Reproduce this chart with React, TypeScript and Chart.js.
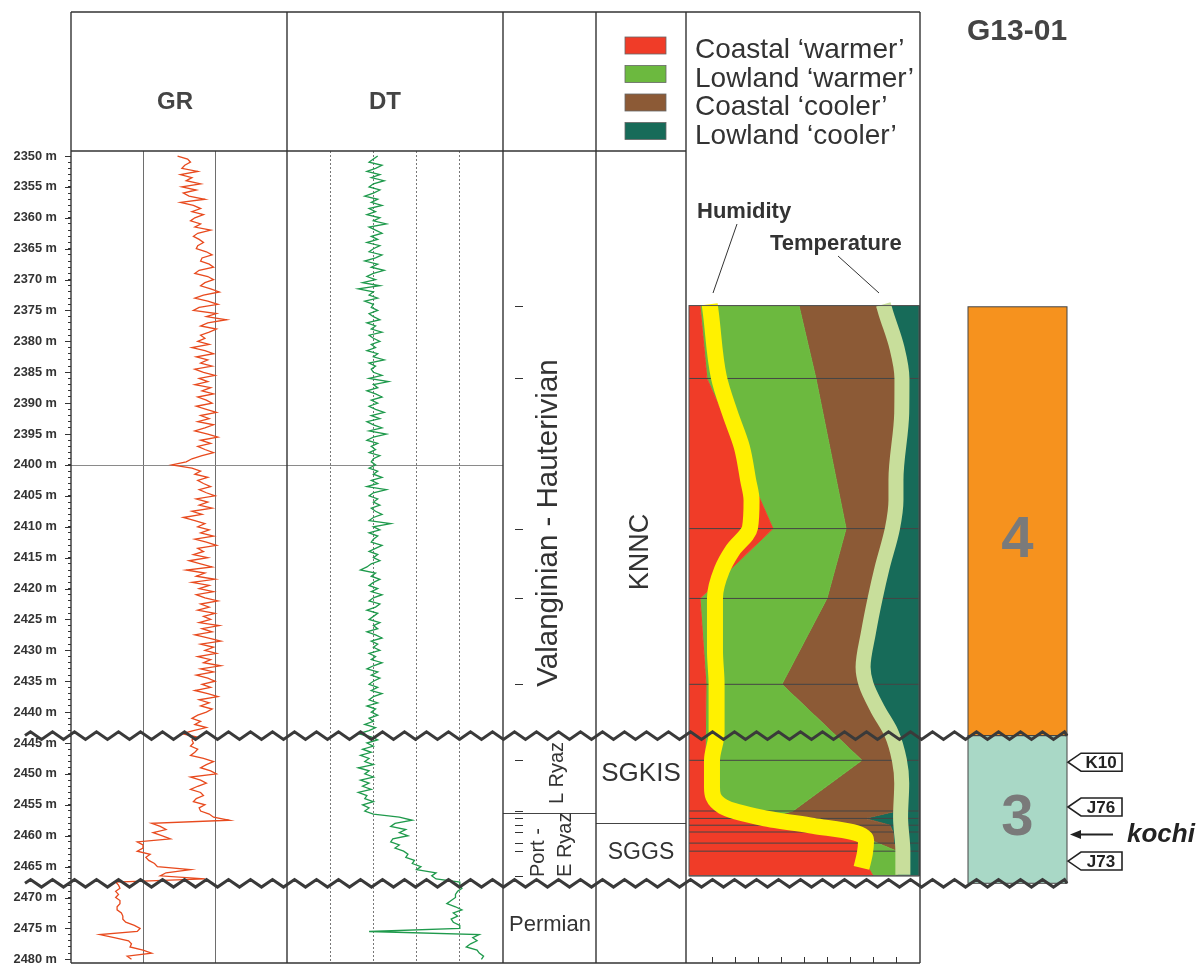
import { useEffect, useRef } from 'react';
import { Chart, registerables } from 'chart.js';

Chart.register(...registerables);

const FONT = '"Liberation Sans", Arial, Helvetica, sans-serif';

// ---------- depth axis ----------
const DEPTH_MIN = 2349.19;
const DEPTH_MAX = 2480.6;
const DEPTH_TICKS = Array.from({ length: 131 }, (_, i) => 2350 + i);
const DEPTH_LABEL_EVERY = 5;
const REFERENCE_DEPTH = 2400;
const UNCONFORMITIES = [2443.8, 2467.7];

// ---------- wireline logs, one reading every 0.5 m from 2350 m ----------
const LOG_TOP = 2350;
const LOG_STEP = 0.5;
const GR_VALUES = [
  74, 81, 83, 79, 77, 88, 76, 84, 80, 90,
  77, 87, 78, 82, 93, 76, 85, 90, 84, 92,
  86, 83, 90, 86, 97, 88, 85, 89, 92, 88,
  87, 94, 98, 91, 90, 96, 99, 89, 86, 95,
  99, 93, 90, 97, 103, 92, 86, 95, 102, 89,
  85, 101, 94, 108, 95, 90, 101, 96, 90, 93,
  88, 96, 84, 93, 99, 87, 95, 90, 98, 86,
  92, 100, 89, 95, 86, 97, 91, 99, 88, 94,
  98, 87, 94, 101, 90, 96, 88, 99, 93, 86,
  95, 102, 90, 97, 88, 93, 99, 91, 84, 80,
  70, 84, 90, 86, 95, 88, 92, 97, 89, 94,
  100, 87, 95, 89, 98, 84, 91, 78, 86, 93,
  88, 96, 90, 99, 86, 94, 101, 88, 92, 85,
  95, 82, 90, 98, 80, 93, 87, 100, 84, 96,
  89, 99, 87, 93, 102, 90, 96, 88, 100, 92,
  97, 89, 103, 91, 98, 86, 95, 104, 90, 99,
  93, 101, 88, 97, 92, 104, 90, 99, 87, 95,
  100, 91, 97, 86, 95, 102, 89, 96, 90, 98,
  94, 88, 84, 90, 86, 94, 85, 77, 87, 84,
  85, 83, 88, 86, 83, 92, 99, 94, 90, 97,
  101, 83, 90, 94, 88, 83, 90, 92, 87, 85,
  93, 89, 90, 96, 99, 110, 56, 62, 66, 57,
  63, 69, 46, 50, 50, 46, 55, 52, 54, 58,
  60, 83, 66, 62, 93, 31, 33, 34, 31, 33,
  31, 34, 34, 32, 32, 35, 36, 36, 38, 44,
  48, 46, 20, 30, 40, 42, 41, 50, 56, 39,
  42,
];
const DT_VALUES = [
  42, 40, 38, 44, 41, 37, 43, 39, 45, 40,
  38, 43, 40, 36, 42, 39, 44, 38, 41, 37,
  43, 40, 46, 38, 41, 44, 39, 42, 37, 43,
  40, 38, 44, 41, 36, 42, 39, 45, 40, 37,
  41, 35, 43, 33, 40, 38, 42, 36, 40, 39,
  42, 38, 40, 43, 37, 41, 39, 44, 38, 40,
  43, 39, 41, 37, 42, 40, 45, 38, 41, 39,
  40, 44, 38, 47, 40, 42, 37, 41, 44, 39,
  42, 38, 41, 45, 39, 43, 37, 40, 44, 38,
  46, 40, 37, 42, 39, 41, 38, 43, 40, 39,
  41, 38, 42, 40, 44, 39, 42, 37, 46, 40,
  38, 42, 40, 43, 39, 41, 44, 40, 38, 48,
  40, 43, 38, 42, 40, 39, 44, 41, 38, 42,
  40, 43, 39, 37, 34, 41, 39, 43, 40, 38,
  42, 39, 44, 40, 38, 43, 41, 37, 42, 40,
  38, 43, 40, 42, 37, 41, 44, 39, 42, 40,
  43, 38, 41, 39, 44, 40, 37, 42, 39, 43,
  40, 38, 42, 39, 44, 40, 38, 42, 37, 41,
  39, 42, 38, 40, 36, 41, 38, 33, 39, 42,
  37, 40, 35, 39, 34, 38, 36, 40, 33, 38,
  36, 40, 34, 38, 35, 39, 33, 37, 36, 40,
  35, 38, 36, 40, 52, 58, 50, 48, 55, 52,
  56, 49, 48, 52, 50, 54, 56, 55, 59, 58,
  62, 60, 69, 67, 69, 80, 80, 81, 79, 78,
  78, 76, 74, 78, 81, 77, 79, 76, 77, 80,
  80, 38, 89, 86, 88, 85, 83, 88, 89, 91,
  90,
];
const GR_GRID = [50, 100];
const DT_GRID = [20, 40, 60, 80];

// ---------- palynology (percent of assemblage per sample) ----------
const PAL_DEPTHS = [2374.2, 2386, 2410.3, 2421.6, 2435.5, 2447.8, 2456, 2457.2, 2458.3, 2459.4, 2461.2, 2462.5, 2466.5];
const COASTAL_WARMER = [4.8, 7.8, 36.5, 4.8, 7.4, 7.0, 15.7, 32.0, 52.0, 69.0, 74.0, 74.0, 80.0];
const LOWLAND_WARMER = [43.0, 47.4, 31.8, 55.2, 33.0, 68.2, 29.5, 0.5, 0.5, 0.5, 8.0, 16.4, 10.4];
const COASTAL_COOLER = [35.2, 35.2, 19.1, 20.9, 36.6, 15.2, 45.2, 44.0, 34.9, 19.2, 7.0, 0.4, 0.0];
const LOWLAND_COOLER = [17.0, 9.6, 12.6, 19.1, 23.0, 9.6, 9.6, 23.5, 12.6, 11.3, 11.0, 9.2, 9.6];
const PAL_GROUPS = ['Coastal ‘warmer’', 'Lowland ‘warmer’', 'Coastal ‘cooler’', 'Lowland ‘cooler’'];
const PAL_COLORS = ['#f03c28', '#6cb93f', '#8c5a36', '#176b59'];
const PAL_AXIS_TICKS = [10, 20, 30, 40, 50, 60, 70, 80, 90];

const HUMIDITY_DEPTHS = [2374.0, 2375.4, 2385.8, 2391.6, 2397.1, 2402.4, 2405.7, 2410.2, 2413.8, 2417, 2421.5, 2430, 2435.5, 2443.4, 2447.8, 2452.1, 2455.3, 2457.1, 2458.4, 2459.4, 2460.7, 2462.8, 2465.2];
const HUMIDITY = [9, 9.5, 13, 17.8, 23, 25.7, 27.2, 26.5, 19, 14.3, 11.3, 11.3, 12, 12, 10, 10, 14.8, 32, 54, 71, 77, 76.5, 75];
const TEMPERATURE_DEPTHS = [2374.0, 2375.4, 2381, 2386, 2391.6, 2402.4, 2405.7, 2410.2, 2416.6, 2421.5, 2427.2, 2432.7, 2435.5, 2439.5, 2443.4, 2447.8, 2451.5, 2457, 2462.5, 2466.3];
const TEMPERATURE = [84.5, 85.6, 90.4, 92.6, 92.5, 90, 90, 88.5, 84, 81, 78, 75.7, 77, 82, 88, 91.5, 92.5, 92, 93, 93];

// ---------- zones / bioevents ----------
const ZONE_LABELS = ['4', '3'];
const ZONE_TOPS = [2374.4, 2443.8];
const ZONE_BASES = [2443.8, 2467.7];
const ZONE_COLORS = ['#f6921e', '#a9d8c6'];
const EVENT_LABELS = ['K10', 'J76', 'J73'];
const EVENT_DEPTHS = [2448.1, 2455.35, 2464.1];
const KOCHI_DEPTH = 2459.8;
const CHRONO_BREAK_DEPTH = 2456.3;
const SEQ_BREAK_DEPTH = 2457.95;

// ---------- layout (px) ----------
const COLUMN_EDGES = [71, 287, 503, 596, 686, 920, 968, 1067];
const HEADER_TOP = 12;
const HEADER_BOTTOM = 151;
const FRAME_BOTTOM = 963;

const W = COLUMN_EDGES.slice(1).map((e, i) => e - COLUMN_EDGES[i]);

function drawText(ctx: CanvasRenderingContext2D, s: string, x: number, y: number, font: string, color = '#333', align: CanvasTextAlign = 'center', baseline: CanvasTextBaseline = 'middle', rot = 0) {
  ctx.save();
  ctx.translate(x, y);
  if (rot) ctx.rotate(rot);
  ctx.font = font;
  ctx.fillStyle = color;
  ctx.textAlign = align;
  ctx.textBaseline = baseline;
  ctx.fillText(s, 0, 0);
  ctx.restore();
}

function seg(ctx: CanvasRenderingContext2D, x0: number, y0: number, x1: number, y1: number) {
  ctx.beginPath();
  ctx.moveTo(x0, y0);
  ctx.lineTo(x1, y1);
  ctx.stroke();
}

function zigzag(ctx: CanvasRenderingContext2D, x0: number, x1: number, y: number) {
  const half = 11;
  const amp = 3.8;
  ctx.beginPath();
  let up = true;
  ctx.moveTo(x0, y);
  for (let x = x0 + half / 2; x <= x1; x += half) {
    ctx.lineTo(x, y + (up ? -amp : amp));
    up = !up;
  }
  ctx.lineTo(x1, y);
  ctx.stroke();
}

const decorPlugin = {
  id: 'decor',
  beforeDatasetsDraw(chart: any) {
    const { ctx } = chart;
    const y = chart.scales.y;
    ctx.save();
    ctx.strokeStyle = '#8a8a8a';
    ctx.lineWidth = 1;
    const py = Math.round(y.getPixelForValue(REFERENCE_DEPTH)) + 0.5;
    seg(ctx, COLUMN_EDGES[0], py, COLUMN_EDGES[2], py);
    ctx.restore();
  },
  afterDraw(chart: any) {
    const { ctx } = chart;
    const y = chart.scales.y;
    const pal = chart.scales.xPal;
    const right = chart.scales.xRight;
    const E = COLUMN_EDGES;
    ctx.save();

    // y-axis major ticks
    ctx.strokeStyle = '#333';
    ctx.lineWidth = 1;
    DEPTH_TICKS.filter((d) => d % DEPTH_LABEL_EVERY === 0).forEach((d) => {
      const py = Math.round(y.getPixelForValue(d)) + 0.5;
      seg(ctx, E[0] - 6, py, E[0], py);
    });

    // chrono column sample ticks
    ctx.strokeStyle = '#333';
    PAL_DEPTHS.forEach((d) => {
      const py = Math.round(y.getPixelForValue(d)) + 0.5;
      seg(ctx, 515, py, 523, py);
    });

    // palynology bottom axis ticks
    PAL_AXIS_TICKS.forEach((v) => {
      const px = Math.round(pal.getPixelForValue(v)) + 0.5;
      seg(ctx, px, FRAME_BOTTOM, px, FRAME_BOTTOM - 6);
    });

    // palynology plot outline
    ctx.strokeStyle = '#555';
    const pt = y.getPixelForValue(PAL_DEPTHS[0]);
    const pb = y.getPixelForValue(PAL_DEPTHS[PAL_DEPTHS.length - 1]);
    ctx.strokeRect(pal.getPixelForValue(0), pt, pal.getPixelForValue(100) - pal.getPixelForValue(0), pb - pt);

    // interval boundaries
    ctx.strokeStyle = '#444';
    let py = Math.round(y.getPixelForValue(CHRONO_BREAK_DEPTH)) + 0.5;
    seg(ctx, E[2], py, E[3], py);
    py = Math.round(y.getPixelForValue(SEQ_BREAK_DEPTH)) + 0.5;
    seg(ctx, E[3], py, E[4], py);

    // frame
    ctx.strokeStyle = '#333';
    ctx.lineWidth = 1.4;
    seg(ctx, E[0], HEADER_TOP, E[5], HEADER_TOP);
    seg(ctx, E[0], HEADER_BOTTOM, E[4], HEADER_BOTTOM);
    seg(ctx, E[0], FRAME_BOTTOM, E[5], FRAME_BOTTOM);
    for (let i = 0; i <= 5; i++) seg(ctx, E[i], HEADER_TOP, E[i], FRAME_BOTTOM);

    // header labels
    drawText(ctx, 'GR', 175, 102, `bold 24px ${FONT}`, '#444');
    drawText(ctx, 'DT', 385, 102, `bold 24px ${FONT}`, '#444');

    // legend
    PAL_GROUPS.forEach((g, i) => {
      const top = 37 + i * 28.5;
      ctx.fillStyle = PAL_COLORS[i];
      ctx.fillRect(625, top, 41, 17);
      ctx.strokeStyle = '#666';
      ctx.lineWidth = 0.8;
      ctx.strokeRect(625, top, 41, 17);
      drawText(ctx, g, 695, top + 21, `28px ${FONT}`, '#333', 'left', 'alphabetic');
    });

    // curve labels
    drawText(ctx, 'Humidity', 697, 218, `bold 22px ${FONT}`, '#333', 'left', 'alphabetic');
    drawText(ctx, 'Temperature', 770, 250, `bold 22px ${FONT}`, '#333', 'left', 'alphabetic');
    ctx.strokeStyle = '#333';
    ctx.lineWidth = 1;
    seg(ctx, 737, 224, 713, 293);
    seg(ctx, 838, 256, 879, 293);

    // chrono / sequence labels
    drawText(ctx, 'Valanginian - Hauterivian', 549, 523, `29.5px ${FONT}`, '#333', 'center', 'middle', -Math.PI / 2);
    drawText(ctx, 'L Ryaz', 557, 773, `20px ${FONT}`, '#333', 'center', 'middle', -Math.PI / 2);
    drawText(ctx, 'Port -', 538, 877, `20px ${FONT}`, '#333', 'left', 'middle', -Math.PI / 2);
    drawText(ctx, 'E Ryaz', 565, 877, `20px ${FONT}`, '#333', 'left', 'middle', -Math.PI / 2);
    drawText(ctx, 'Permian', 550, 925, `22px ${FONT}`, '#333');
    drawText(ctx, 'KNNC', 641, 552, `27px ${FONT}`, '#333', 'center', 'middle', -Math.PI / 2);
    drawText(ctx, 'SGKIS', 641, 774, `26px ${FONT}`, '#333');
    drawText(ctx, 'SGGS', 641, 853, `23px ${FONT}`, '#333');

    // zone boxes
    ZONE_LABELS.forEach((lab, i) => {
      const x0 = right.getPixelForValue(0);
      const x1 = right.getPixelForValue(1);
      const t = y.getPixelForValue(ZONE_TOPS[i]);
      const b = y.getPixelForValue(ZONE_BASES[i]);
      ctx.strokeStyle = '#444';
      ctx.lineWidth = 1;
      ctx.strokeRect(x0, t, x1 - x0, b - t);
      const cy = i === 0 ? 541 : 819;
      drawText(ctx, lab, (x0 + x1) / 2, cy, `bold 58px ${FONT}`, '#7a7a7a');
    });

    // bioevents
    const xr = right.getPixelForValue(1);
    EVENT_LABELS.forEach((lab, i) => {
      const cy = y.getPixelForValue(EVENT_DEPTHS[i]);
      ctx.beginPath();
      ctx.moveTo(xr + 1, cy);
      ctx.lineTo(xr + 14, cy - 9);
      ctx.lineTo(1122, cy - 9);
      ctx.lineTo(1122, cy + 9);
      ctx.lineTo(xr + 14, cy + 9);
      ctx.closePath();
      ctx.fillStyle = '#fff';
      ctx.fill();
      ctx.strokeStyle = '#222';
      ctx.lineWidth = 1.6;
      ctx.stroke();
      drawText(ctx, lab, 1101, cy + 1, `bold 17px ${FONT}`, '#222');
    });
    const ky = y.getPixelForValue(KOCHI_DEPTH);
    ctx.strokeStyle = '#222';
    ctx.lineWidth = 2;
    seg(ctx, 1113, ky, 1078, ky);
    ctx.beginPath();
    ctx.moveTo(xr + 3, ky);
    ctx.lineTo(xr + 14, ky - 4.5);
    ctx.lineTo(xr + 14, ky + 4.5);
    ctx.closePath();
    ctx.fillStyle = '#222';
    ctx.fill();
    drawText(ctx, 'kochi', 1127, ky + 8, `italic bold 26px ${FONT}`, '#222', 'left', 'alphabetic');

    drawText(ctx, 'G13-01', 967, 40, `bold 30px ${FONT}`, '#444', 'left', 'alphabetic');

    // unconformities
    ctx.strokeStyle = '#3a3a3a';
    ctx.lineWidth = 3;
    ctx.lineJoin = 'miter';
    UNCONFORMITIES.forEach((d) => zigzag(ctx, 25, E[7], y.getPixelForValue(d)));

    ctx.restore();
  },
};

function buildConfig(): any {
  const logPts = (vals: number[]) => vals.map((v, i) => ({ x: v, y: LOG_TOP + i * LOG_STEP }));

  const groups = [COASTAL_WARMER, LOWLAND_WARMER, COASTAL_COOLER, LOWLAND_COOLER];
  const cumulative: number[][] = [];
  groups.forEach((g, gi) => {
    cumulative.push(g.map((v, i) => (gi === 0 ? 0 : cumulative[gi - 1][i]) + v));
  });

  const areaSets = groups.map((_, gi) => ({
    label: PAL_GROUPS[gi],
    data: PAL_DEPTHS.map((d, i) => ({ x: cumulative[gi][i], y: d })),
    xAxisID: 'xPal',
    yAxisID: 'y',
    indexAxis: 'y',
    borderWidth: 1,
    borderColor: PAL_COLORS[gi],
    backgroundColor: PAL_COLORS[gi],
    fill: gi === 0 ? { value: 0 } : '-1',
    pointRadius: 0,
    order: 30,
  }));

  const sampleLines = PAL_DEPTHS.map((d) => ({
    label: `sample ${d}`,
    data: [{ x: 0, y: d }, { x: 100, y: d }],
    xAxisID: 'xPal',
    yAxisID: 'y',
    indexAxis: 'y',
    borderColor: '#454545',
    borderWidth: 1,
    pointRadius: 0,
    fill: false,
    order: 10,
  }));

  const zoneSets = ZONE_LABELS.map((lab, i) => ({
    label: `Zone ${lab}`,
    data: [{ x: 1, y: ZONE_TOPS[i] }, { x: 1, y: ZONE_BASES[i] }],
    xAxisID: 'xRight',
    yAxisID: 'y',
    indexAxis: 'y',
    borderWidth: 0,
    backgroundColor: ZONE_COLORS[i],
    fill: { value: 0 },
    pointRadius: 0,
    order: 30,
  }));

  const datasets = [
    ...areaSets,
    ...zoneSets,
    ...sampleLines,
    {
      label: 'Temperature',
      data: TEMPERATURE.map((v, i) => ({ x: v, y: TEMPERATURE_DEPTHS[i] })),
      xAxisID: 'xPal', yAxisID: 'y', indexAxis: 'y',
      borderColor: '#c8de9b', borderWidth: 15, borderCapStyle: 'butt',
      cubicInterpolationMode: 'monotone', pointRadius: 0, fill: false, order: 3,
    },
    {
      label: 'Humidity',
      data: HUMIDITY.map((v, i) => ({ x: v, y: HUMIDITY_DEPTHS[i] })),
      xAxisID: 'xPal', yAxisID: 'y', indexAxis: 'y',
      borderColor: '#fff100', borderWidth: 16, borderCapStyle: 'butt',
      cubicInterpolationMode: 'monotone', pointRadius: 0, fill: false, order: 2,
    },
    {
      label: 'GR',
      data: logPts(GR_VALUES),
      xAxisID: 'xGR', yAxisID: 'y', indexAxis: 'y',
      borderColor: '#e84a1e', borderWidth: 1.3, pointRadius: 0, fill: false, order: 1,
    },
    {
      label: 'DT',
      data: logPts(DT_VALUES),
      xAxisID: 'xDT', yAxisID: 'y', indexAxis: 'y',
      borderColor: '#1f9a4c', borderWidth: 1.3, pointRadius: 0, fill: false, order: 1,
    },
  ];

  const hiddenTrack = (weight: number, min: number, max: number) => ({
    type: 'linear', position: 'bottom', stack: 'tracks', stackWeight: weight, min, max,
    ticks: { display: false }, grid: { display: false, drawTicks: false }, border: { display: false },
  });

  return {
    type: 'line',
    data: { datasets },
    options: {
      animation: false,
      responsive: false,
      devicePixelRatio: 1,
      indexAxis: 'y',
      layout: { padding: { top: HEADER_BOTTOM, bottom: 965 - FRAME_BOTTOM, left: 0, right: 1200 - COLUMN_EDGES[7] } },
      plugins: { legend: { display: false }, tooltip: { enabled: false }, title: { display: false } },
      elements: { point: { radius: 0 }, line: { tension: 0 } },
      scales: {
        y: {
          type: 'linear', position: 'left', reverse: true, min: DEPTH_MIN, max: DEPTH_MAX,
          afterBuildTicks: (s: any) => { s.ticks = DEPTH_TICKS.map((v) => ({ value: v })); },
          afterFit: (s: any) => { s.width = COLUMN_EDGES[0]; s.paddingTop = 0; s.paddingBottom = 0; },
          ticks: {
            autoSkip: false, padding: 11, color: '#333',
            font: { family: FONT, size: 12.8, weight: 'bold' },
            callback: (v: number) => (v % DEPTH_LABEL_EVERY === 0 ? `${v} m` : ''),
          },
          grid: { drawOnChartArea: false, tickLength: 3, tickColor: '#333', tickWidth: 1 },
          border: { display: false },
        },
        xGR: {
          type: 'linear', position: 'bottom', stack: 'tracks', stackWeight: W[0], min: 0, max: 150,
          afterBuildTicks: (s: any) => { s.ticks = GR_GRID.map((v) => ({ value: v })); },
          ticks: { display: false },
          grid: { drawTicks: false, color: '#6e6e6e', lineWidth: 1 },
          border: { display: false },
        },
        xDT: {
          type: 'linear', position: 'bottom', stack: 'tracks', stackWeight: W[1], min: 0, max: 100,
          afterBuildTicks: (s: any) => { s.ticks = DT_GRID.map((v) => ({ value: v })); },
          ticks: { display: false },
          grid: { drawTicks: false, color: '#777', lineWidth: 1 },
          border: { display: false, dash: [2, 2] },
        },
        xChrono: hiddenTrack(W[2], 0, 1),
        xZone: hiddenTrack(W[3], 0, 1),
        xPal: hiddenTrack(W[4], -1.3, 100.45),
        xGap: hiddenTrack(W[5], 0, 1),
        xRight: hiddenTrack(W[6], 0, 1),
      },
    },
    plugins: [decorPlugin],
  };
}

export default function App() {
  const canvasRef = useRef<HTMLCanvasElement | null>(null);
  useEffect(() => {
    const canvas = canvasRef.current;
    if (!canvas) return;
    Chart.defaults.font.family = FONT;
    const chart = new Chart(canvas, buildConfig());
    return () => chart.destroy();
  }, []);
  return (
    <div style={{ position: 'absolute', left: 0, top: 0, width: 1200, height: 965, background: '#ffffff' }}>
      <canvas ref={canvasRef} width={1200} height={965} style={{ display: 'block', width: 1200, height: 965 }} />
    </div>
  );
}
